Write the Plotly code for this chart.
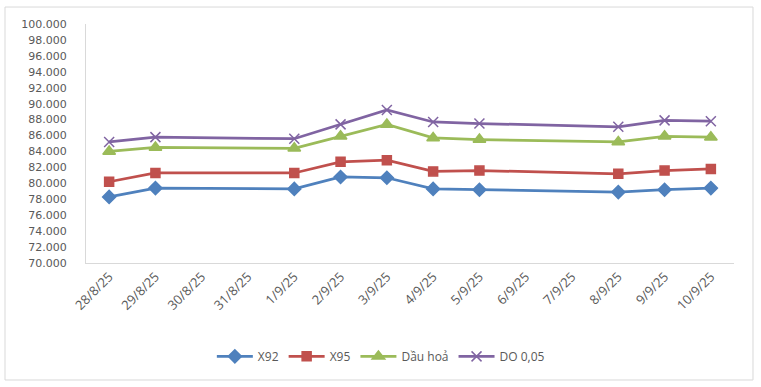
import plotly.graph_objects as go

dates = ["28/8/25", "29/8/25", "30/8/25", "31/8/25", "1/9/25", "2/9/25", "3/9/25",
         "4/9/25", "5/9/25", "6/9/25", "7/9/25", "8/9/25", "9/9/25", "10/9/25"]
x92 = [78300, 79400, None, None, 79300, 80800, 80700, 79300, 79200, None, None, 78900, 79200, 79400]
x95 = [80200, 81300, None, None, 81300, 82700, 82900, 81500, 81600, None, None, 81200, 81600, 81800]
dau_hoa = [84000, 84500, None, None, 84400, 85900, 87400, 85700, 85500, None, None, 85200, 85900, 85800]
do005 = [85200, 85800, None, None, 85600, 87400, 89200, 87700, 87500, None, None, 87100, 87900, 87800]
y_ticks = list(range(70000, 100001, 2000))

series = [
    ("X92", x92, "#4F81BD", "diamond", 10),
    ("X95", x95, "#C0504D", "square", 9),
    ("Dầu hoả", dau_hoa, "#9BBB59", "triangle-up", 11),
    ("DO 0,05", do005, "#8064A2", "x-thin-open", 10),
]

fig = go.Figure()
for name, vals, color, sym, size in series:
    fig.add_trace(go.Scatter(
        x=dates, y=vals, name=name, mode="lines+markers", connectgaps=True,
        line=dict(color=color, width=2.75),
        marker=dict(symbol=sym, size=size, color=color,
                    line=dict(color=color, width=1.5)),
    ))

fig.update_layout(
    width=761, height=387,
    margin=dict(l=86, r=27, t=24, b=124),
    paper_bgcolor="white", plot_bgcolor="white",
    separators=",.",
    font=dict(family="Open Sans, Liberation Sans, sans-serif", size=12, color="#595959"),
    showlegend=True,
    legend=dict(orientation="h", x=0.455, xanchor="center", y=-0.33, yanchor="top",
                font=dict(size=12, color="#595959"), itemwidth=36),
    xaxis=dict(type="category", categoryorder="array", categoryarray=dates,
               tickangle=-45, showgrid=False, showline=True, linecolor="#d9d9d9",
               linewidth=1, ticks="", tickfont=dict(size=13, color="#595959"),
               range=[-0.5, len(dates) - 0.5], automargin=False),
    yaxis=dict(range=[70000, 100000], tickvals=y_ticks, tickformat=",.0f",
               showgrid=False, showline=True, linecolor="#d9d9d9", linewidth=1,
               ticks="", zeroline=False, ticklabelstandoff=16, automargin=False,
               tickfont=dict(family="DejaVu Sans, sans-serif", size=11, color="#595959")),
)

fig.add_shape(type="rect", xref="paper", yref="paper",
              x0=-0.125, x1=1.0293, y0=-0.4895, y1=1.071,
              line=dict(color="#d9d9d9", width=1), fillcolor="rgba(0,0,0,0)", layer="below")

fig.write_html("out.html", config={"displayModeBar": False},
               post_script="document.body.style.margin='0px';document.body.style.overflow='hidden';")
